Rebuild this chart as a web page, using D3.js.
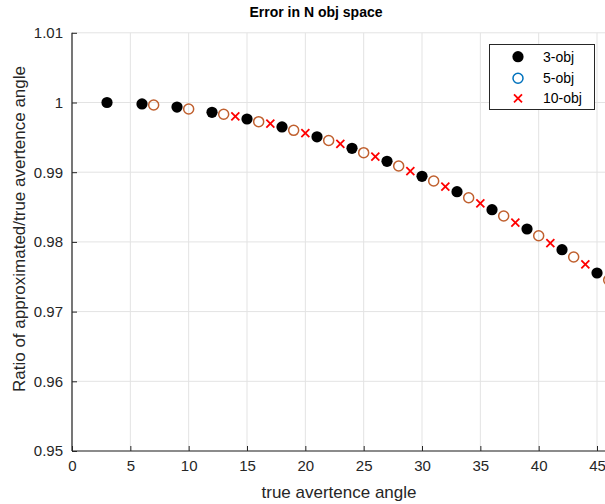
<!DOCTYPE html>
<html><head><meta charset="utf-8">
<script src="https://cdn.jsdelivr.net/npm/d3@7"></script>
<style>
html,body{margin:0;padding:0;background:#fff;}
text{font-family:"Liberation Sans",Arial,sans-serif;}
</style></head>
<body>
<svg id="c" width="605" height="504"></svg>
<script>
const xTicks = [0,5,10,15,20,25,30,35,40,45];
const yTicks = [0.95,0.96,0.97,0.98,0.99,1.00,1.01];
const obj3X = [3,6,9,12,15,18,21,24,27,30,33,36,39,42,45];
const obj3Y = [1.0000,0.99979,0.99935,0.99859,0.99763,0.99649,0.99508,0.99343,0.99156,0.98941,0.98720,0.98462,0.98185,0.97888,0.97554];
const obj5X = [7,10,13,16,19,22,25,28,31,34,37,40,43,46];
const obj5Y = [0.99964,0.99907,0.99831,0.99725,0.99601,0.99455,0.99280,0.99089,0.98874,0.98634,0.98372,0.98089,0.97783,0.97453];
const obj10X = [14,17,20,23,26,29,32,35,38,41,44];
const obj10Y = [0.99802,0.99696,0.99560,0.99405,0.99222,0.99017,0.98792,0.98554,0.98276,0.97984,0.97679];
const legendLabels = ["3-obj","5-obj","10-obj"];

const svg = d3.select("#c");
const x = d3.scaleLinear().domain([0,50]).range([72, 72+50*11.667]);
const y = d3.scaleLinear().domain([0.95,1.01]).range([451, 32.8]);
const axisCol = "#262626";

// grid
svg.append("g").selectAll("line").data(xTicks).join("line")
  .attr("x1",d=>x(d)).attr("x2",d=>x(d)).attr("y1",y(0.95)).attr("y2",y(1.01))
  .attr("stroke","#e3e3e3").attr("stroke-width",1);
svg.append("g").selectAll("line").data(yTicks).join("line")
  .attr("x1",x(0)).attr("x2",x(50)).attr("y1",d=>y(d)).attr("y2",d=>y(d))
  .attr("stroke","#e3e3e3").attr("stroke-width",1);

// axes
const xAxis = d3.axisBottom(x).tickValues(xTicks).tickSize(-5).tickPadding(9).tickFormat(d3.format("d"));
const gx = svg.append("g").attr("transform",`translate(0,${y(0.95)})`).call(xAxis);
const yAxis = d3.axisLeft(y).tickValues(yTicks).tickSize(-5).tickPadding(9).tickFormat(d=>d3.format("")(+d.toFixed(2)));
const gy = svg.append("g").attr("transform",`translate(${x(0)},0)`).call(yAxis);
[gx,gy].forEach(g=>{
  g.select(".domain").attr("stroke",axisCol).attr("stroke-width",1.2);
  g.selectAll(".tick line").attr("stroke",axisCol).attr("stroke-width",1);
  g.selectAll(".tick text").attr("fill",axisCol).style("font-size","15px").style("font-family","'Liberation Sans',Arial,sans-serif");
});
gx.select(".domain").attr("d",`M${x(0)},0H${x(50)}`);
gy.select(".domain").attr("d",`M0,${y(0.95)}V${y(1.01)}`);

// data
const d3pts = obj3X.map((v,i)=>({x:v,y:obj3Y[i]}));
const d5pts = obj5X.map((v,i)=>({x:v,y:obj5Y[i]}));
const d10pts = obj10X.map((v,i)=>({x:v,y:obj10Y[i]}));

svg.append("g").selectAll("circle").data(d3pts).join("circle")
  .attr("cx",d=>x(d.x)).attr("cy",d=>y(d.y)).attr("r",5.6).attr("fill","#000");
svg.append("g").selectAll("circle").data(d5pts).join("circle")
  .attr("cx",d=>x(d.x)).attr("cy",d=>y(d.y)).attr("r",5).attr("fill","none")
  .attr("stroke","#c0602f").attr("stroke-width",1.5);
const xs = 4;
const g10 = svg.append("g");
g10.selectAll("path").data(d10pts).join("path")
  .attr("d",d=>{const cx=x(d.x),cy=y(d.y);return `M${cx-xs},${cy-xs}L${cx+xs},${cy+xs}M${cx-xs},${cy+xs}L${cx+xs},${cy-xs}`;})
  .attr("stroke","#ff0000").attr("stroke-width",1.8).attr("fill","none");

// legend
const lg = svg.append("g");
lg.append("rect").attr("x",489.5).attr("y",44.5).attr("width",105).attr("height",65)
  .attr("fill","#fff").attr("stroke","#262626").attr("stroke-width",1);
const rows = [56.7,78.3,98.3];
lg.append("circle").attr("cx",518).attr("cy",rows[0]).attr("r",5.6).attr("fill","#000");
lg.append("circle").attr("cx",518).attr("cy",rows[1]).attr("r",5).attr("fill","none").attr("stroke","#0072bd").attr("stroke-width",1.5);
lg.append("path").attr("d",`M${518-xs},${rows[2]-xs}L${518+xs},${rows[2]+xs}M${518-xs},${rows[2]+xs}L${518+xs},${rows[2]-xs}`)
  .attr("stroke","#ff0000").attr("stroke-width",1.8);
lg.selectAll("text").data(legendLabels).join("text")
  .attr("x",543).attr("y",(d,i)=>rows[i]).attr("dy","0.35em")
  .style("font-size","14px").attr("fill","#000").text(d=>d);

// title & labels
svg.append("text").attr("x",316).attr("y",17).attr("text-anchor","middle")
  .style("font-size","14px").style("font-weight","bold").attr("fill","#000").text("Error in N obj space");
svg.append("text").attr("x",339).attr("y",498).attr("text-anchor","middle")
  .style("font-size","17px").attr("fill",axisCol).text("true avertence angle");
svg.append("text").attr("transform","translate(25,229) rotate(-90)").attr("text-anchor","middle")
  .style("font-size","17px").attr("fill",axisCol).text("Ratio of approximated/true avertence angle");
</script>
</body></html>
